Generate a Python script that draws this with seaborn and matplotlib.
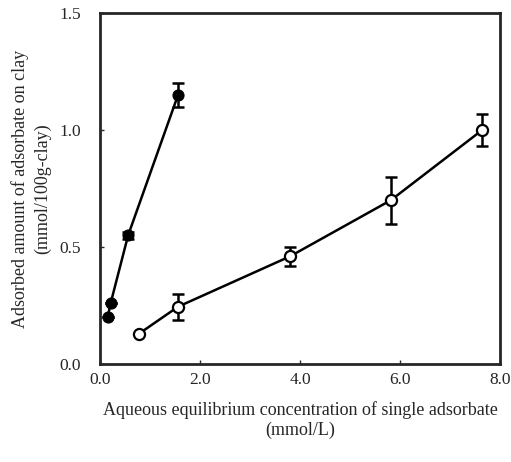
import numpy as np
import pandas as pd
import matplotlib
matplotlib.use("Agg")
import matplotlib.pyplot as plt
import seaborn as sns

# filled circles
x_filled = [0.15, 0.21, 0.56, 1.56]
y_filled = [0.20, 0.26, 0.55, 1.15]
err_filled = [0.0, 0.0, 0.015, 0.05]

# open circles
x_open = [0.78, 1.56, 3.80, 5.82, 7.65]
y_open = [0.13, 0.245, 0.46, 0.70, 1.00]
err_open = [0.0, 0.055, 0.04, 0.10, 0.07]

x_ticks = [0, 2, 4, 6, 8]
x_ticklabels = ["0.0", "2.0", "4.0", "6.0", "8.0"]
y_ticks = [0, 0.5, 1.0, 1.5]
y_ticklabels = ["0.0", "0.5", "1.0", "1.5"]

sns.set_style("ticks")
plt.rcParams['font.family'] = ['Liberation Serif', 'DejaVu Serif']

fig = plt.figure(figsize=(5.11, 4.62), dpi=100)
ax = fig.add_axes([0.196, 0.212, 0.782, 0.760])

df_f = pd.DataFrame({"x": x_filled, "y": y_filled})
df_o = pd.DataFrame({"x": x_open, "y": y_open})

ax.errorbar(x_filled, y_filled, yerr=err_filled, fmt='none', ecolor='black',
            elinewidth=1.8, capsize=4, capthick=1.8, zorder=2)
ax.errorbar(x_open, y_open, yerr=err_open, fmt='none', ecolor='black',
            elinewidth=1.8, capsize=4, capthick=1.8, zorder=2)
sns.lineplot(data=df_f, x="x", y="y", ax=ax, color='black', lw=1.8,
             marker='o', markersize=8, markerfacecolor='black',
             markeredgecolor='black', sort=False, zorder=3)
sns.lineplot(data=df_o, x="x", y="y", ax=ax, color='black', lw=1.8,
             marker='o', markersize=8, markerfacecolor='white',
             markeredgecolor='black', markeredgewidth=1.6, sort=False, zorder=3)

ax.set_xlim(0, 8)
ax.set_ylim(0, 1.5)
ax.set_xticks(x_ticks)
ax.set_xticklabels(x_ticklabels)
ax.set_yticks(y_ticks)
ax.set_yticklabels(y_ticklabels)
ax.tick_params(direction='in', length=3, labelsize=12.5, width=1)
ax.tick_params(axis='x', pad=6)
ax.tick_params(axis='y', pad=14)
for s in ax.spines.values():
    s.set_linewidth(2)
    s.set_visible(True)

ax.set_xlabel("Aqueous equilibrium concentration of single adsorbate\n(mmol/L)",
              fontsize=13, labelpad=9, linespacing=1.25)
ax.set_ylabel("Adsorbed amount of adsorbate on clay\n(mmol/100g-clay)",
              fontsize=13, labelpad=6, linespacing=1.3)

fig.savefig("out.png", dpi=100)
